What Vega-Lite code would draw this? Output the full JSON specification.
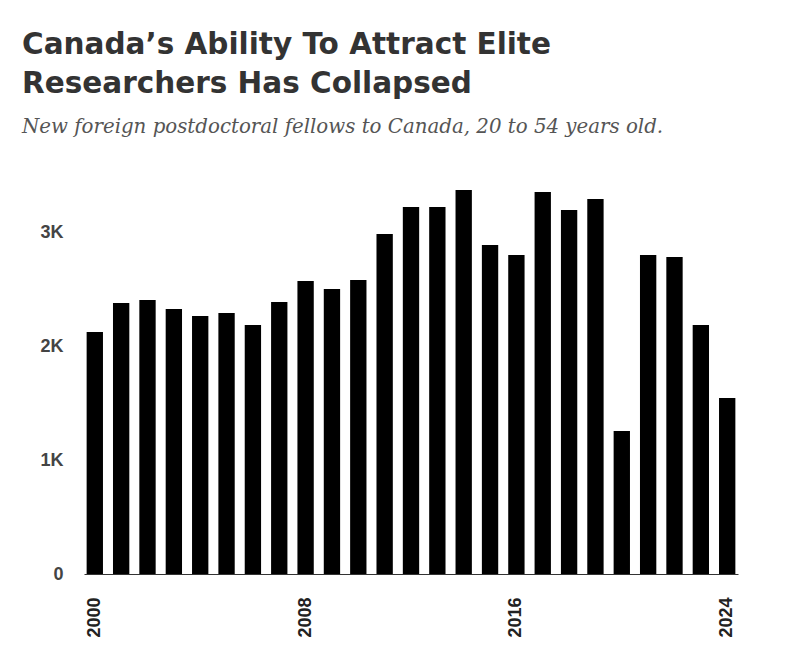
{
  "$schema": "https://vega.github.io/schema/vega-lite/v6.json",
  "autosize": {"type": "none"},
  "width": 654,
  "height": 398,
  "padding": {"left": 84, "top": 176, "right": 69, "bottom": 86},
  "background": "#ffffff",
  "title": {
    "text": ["Canada’s Ability To Attract Elite", "Researchers Has Collapsed"],
    "subtitle": "New foreign postdoctoral fellows to Canada, 20 to 54 years old.",
    "anchor": "start",
    "frame": "group",
    "dx": -62,
    "offset": 38,
    "font": "DejaVu Sans",
    "fontSize": 29.5,
    "fontWeight": 700,
    "color": "#333333",
    "lineHeight": 39,
    "subtitleFont": "DejaVu Serif",
    "subtitleFontSize": 19.8,
    "subtitleFontStyle": "italic",
    "subtitleColor": "#555555",
    "subtitlePadding": 18
  },
  "data": {
    "values": [
      {"year": 2000, "fellows": 2128},
      {"year": 2001, "fellows": 2383},
      {"year": 2002, "fellows": 2410},
      {"year": 2003, "fellows": 2331},
      {"year": 2004, "fellows": 2269},
      {"year": 2005, "fellows": 2296},
      {"year": 2006, "fellows": 2190},
      {"year": 2007, "fellows": 2392},
      {"year": 2008, "fellows": 2577},
      {"year": 2009, "fellows": 2507},
      {"year": 2010, "fellows": 2586},
      {"year": 2011, "fellows": 2990},
      {"year": 2012, "fellows": 3228},
      {"year": 2013, "fellows": 3228},
      {"year": 2014, "fellows": 3377},
      {"year": 2015, "fellows": 2894},
      {"year": 2016, "fellows": 2806},
      {"year": 2017, "fellows": 3360},
      {"year": 2018, "fellows": 3201},
      {"year": 2019, "fellows": 3298},
      {"year": 2020, "fellows": 1258},
      {"year": 2021, "fellows": 2806},
      {"year": 2022, "fellows": 2788},
      {"year": 2023, "fellows": 2190},
      {"year": 2024, "fellows": 1548}
    ]
  },
  "mark": {"type": "bar", "color": "#000000"},
  "encoding": {
    "x": {
      "field": "year",
      "type": "ordinal",
      "scale": {"paddingInner": 0.38, "paddingOuter": 0.1},
      "axis": {
        "title": null,
        "values": [2000, 2008, 2016, 2024],
        "labelAngle": -90,
        "labelAlign": "right",
        "labelBaseline": "middle",
        "labelFont": "Liberation Sans",
        "labelFontSize": 18,
        "labelFontWeight": "bold",
        "labelColor": "#222222",
        "labelPadding": 23,
        "ticks": false,
        "domainColor": "#333333",
        "domainWidth": 1,
        "grid": false
      }
    },
    "y": {
      "field": "fellows",
      "type": "quantitative",
      "scale": {"domain": [0, 3500], "nice": false},
      "axis": {
        "title": null,
        "values": [0, 1000, 2000, 3000],
        "labelExpr": "datum.value == 0 ? '0' : (datum.value / 1000) + 'K'",
        "labelFont": "Liberation Sans",
        "labelFontSize": 18,
        "labelFontWeight": "bold",
        "labelColor": "#444444",
        "labelPadding": 21,
        "ticks": false,
        "domain": false,
        "grid": false
      }
    }
  },
  "config": {"view": {"stroke": null}}
}
